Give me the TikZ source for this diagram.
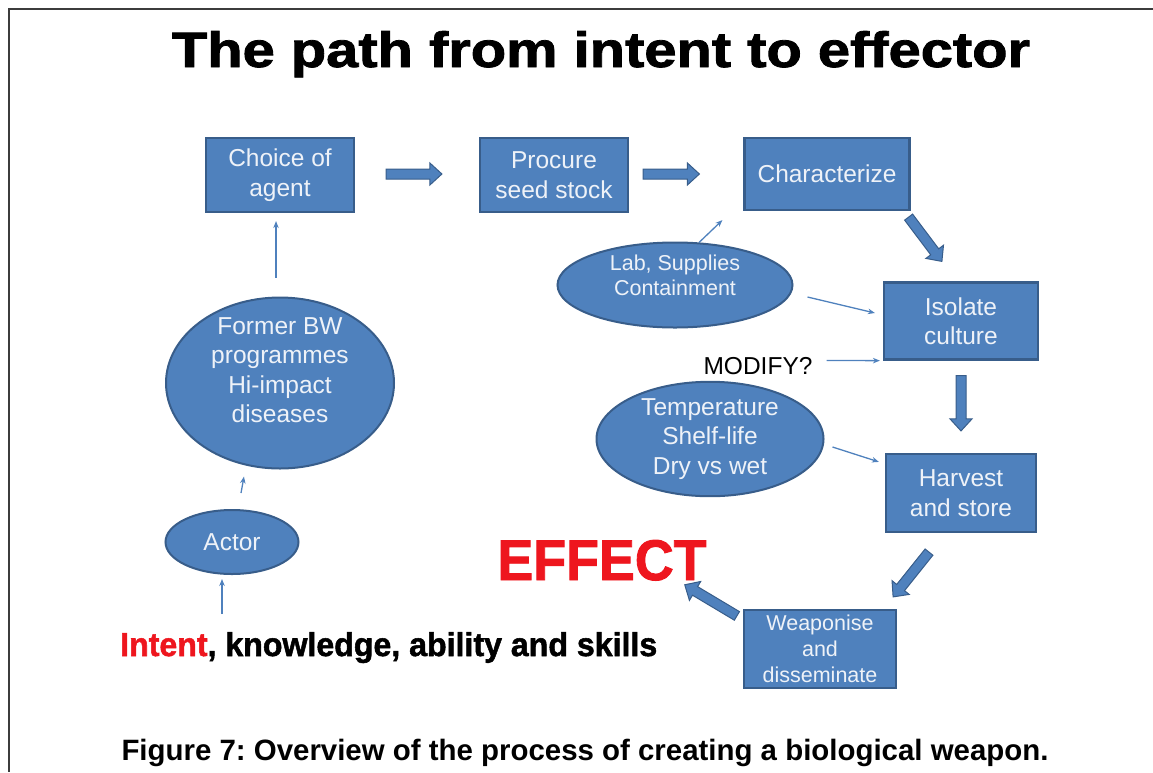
\documentclass[tikz,border=0pt]{standalone}
\usepackage{fontspec}
\setmainfont{Liberation Sans}
\newfontfamily\heavy{Liberation Sans Bold}[FakeBold=1.6]
\usetikzlibrary{calc,arrows.meta,shapes.geometric}
\definecolor{boxblue}{RGB}{79,129,189}
\definecolor{boxedge}{RGB}{56,93,138}
\definecolor{boxtext}{RGB}{238,242,248}
\definecolor{effred}{RGB}{238,22,30}
\definecolor{framegray}{RGB}{60,60,60}
\frenchspacing
\tikzset{
  stepbox/.style={rectangle, fill=boxblue, draw=boxedge, line width=2.2pt, text=boxtext,
    align=center, inner sep=0pt, font=\fontsize{24.5}{29.5}\selectfont},
  oval/.style={ellipse, fill=boxblue, draw=boxedge, line width=2pt, text=boxtext,
    align=center, inner sep=0pt, font=\fontsize{24.5}{29.5}\selectfont},
  ovaltext/.style={text=boxtext, align=center, inner sep=0pt, font=\fontsize{24.5}{29.5}\selectfont},
  thinarr/.style={draw=boxblue, line width=1.3pt, -{Stealth[length=7pt,width=5.5pt]}},
  bigarr/.style={fill=boxblue, draw=boxedge, line width=1pt, line join=miter},
}
\newcommand\blockarrow[2]{%
  \coordinate (bah) at ($(#2)!12pt!(#1)$);
  \draw[bigarr] ($(#1)!5pt!90:(#2)$) -- ($(bah)!5pt!-90:(#1)$) -- ($(bah)!11pt!-90:(#1)$)
    -- (#2) -- ($(bah)!11pt!90:(#1)$) -- ($(bah)!5pt!90:(#1)$) -- ($(#1)!5pt!-90:(#2)$) -- cycle;
}
\begin{document}
\begin{tikzpicture}[x=1pt,y=-1pt]
\useasboundingbox (0,0) rectangle (1153,772);
\draw[framegray, line width=2pt] (1153,9) -- (9,9) -- (9,772);

% title
\node[font=\heavy, anchor=base, inner sep=0pt] (title) at (601,67)
  {\resizebox{858pt}{36pt}{The path from intent to effector}};

% boxes
\node[stepbox, minimum width=148pt, minimum height=74pt] (choice) at (280,175) {Choice of\\agent};
\node[stepbox, minimum width=148pt, minimum height=74pt] (procure) at (554,175) {Procure\\seed stock};
\node[stepbox, minimum width=165pt, minimum height=72pt] (char) at (827,174) {Characterize};
\node[stepbox, minimum width=154pt, minimum height=77pt] (iso) at (961,321) {Isolate\\culture};
\node[stepbox, minimum width=150pt, minimum height=78pt] (harv) at (961,493) {Harvest\\and store};
\node[stepbox, minimum width=152pt, minimum height=78pt, font=\fontsize{21.5}{26}\selectfont] (weap) at (820,649) {Weaponise\\and\\disseminate};

% ellipses
\node[oval, minimum width=228pt, minimum height=171pt] (former) at (280,383) {};
\node[ovaltext] (formertxt) at (280,370) {Former BW\\programmes\\Hi-impact\\diseases};
\node[oval, minimum width=133pt, minimum height=64pt] (actor) at (232,542) {Actor};
\node[oval, minimum width=235pt, minimum height=85pt] (lab) at (675,285) {};
\node[ovaltext, font=\fontsize{21.5}{25}\selectfont] (labtxt) at (675,275) {Lab, Supplies\\Containment};
\node[oval, minimum width=227pt, minimum height=92pt] (temp) at (710,439) {Temperature\\Shelf-life\\Dry vs wet};

% free texts
\node[anchor=base, inner sep=0pt, font=\fontsize{24.5}{29.5}\selectfont] (mod) at (758,374) {MODIFY?};
\node[anchor=base, inner sep=0pt, font=\heavy, text=effred] (effect) at (602,580)
  {\resizebox{209pt}{40pt}{EFFECT}};
\node[anchor=base west, inner sep=0pt, font=\heavy] (intent) at (120,656)
  {\resizebox{537pt}{24pt}{\textcolor{effred}{Intent}, knowledge, ability and skills}};
\node[anchor=base, inner sep=0pt, font=\bfseries\fontsize{29.4}{35}\selectfont] (caption) at (585,760)
  {\resizebox{927pt}{!}{Figure 7: Overview of the process of creating a biological weapon.}};

% thin arrows
\draw[thinarr] ($(former.north)+(-4,-19)$) -- ($(choice.south)+(-4,8)$);
\draw[thinarr] ($(actor.north)+(9,-16)$) -- ($(former.south)+(-36,7)$);
\coordinate (istart) at (222,614);
\draw[thinarr] (istart) -- ($(actor.south)+(-10,4)$);
\draw[thinarr] ($(lab.north)+(24,1)$) -- ($(char.south west)+(-21,9)$);
\draw[thinarr] ($(lab.east)+(14,12)$) -- ($(iso.west)+(-8,-8)$);
\draw[thinarr] ($(mod.east)+(14,-5)$) -- ($(iso.south west)+(-3,0)$);
\draw[thinarr] ($(temp.east)+(8,8)$) -- ($(harv.north west)+(-6,9)$);

% block arrows
\coordinate (a1s) at ($(choice.east)+(31,-1)$);
\coordinate (a1e) at ($(procure.west)+(-37,-1)$);
\coordinate (a2s) at ($(procure.east)+(14,-1)$);
\coordinate (a2e) at ($(char.west)+(-44,0)$);
\coordinate (a3s) at ($(char.south east)+(-2,6)$);
\coordinate (a3e) at ($(iso.north west)+(59,-20)$);
\coordinate (a4s) at ($(iso.south)+(0,15)$);
\coordinate (a4e) at ($(harv.north)+(0,-22)$);
\coordinate (a5s) at ($(harv.south)+(-32,19)$);
\coordinate (a5e) at ($(weap.north east)+(-4,-12)$);
\coordinate (a6s) at ($(weap.north west)+(-6,7)$);
\coordinate (a6e) at ($(effect.south east)+(-22,4)$);
\blockarrow{a1s}{a1e}
\blockarrow{a2s}{a2e}
\blockarrow{a3s}{a3e}
\blockarrow{a4s}{a4e}
\blockarrow{a5s}{a5e}
\blockarrow{a6s}{a6e}
\end{tikzpicture}
\end{document}
